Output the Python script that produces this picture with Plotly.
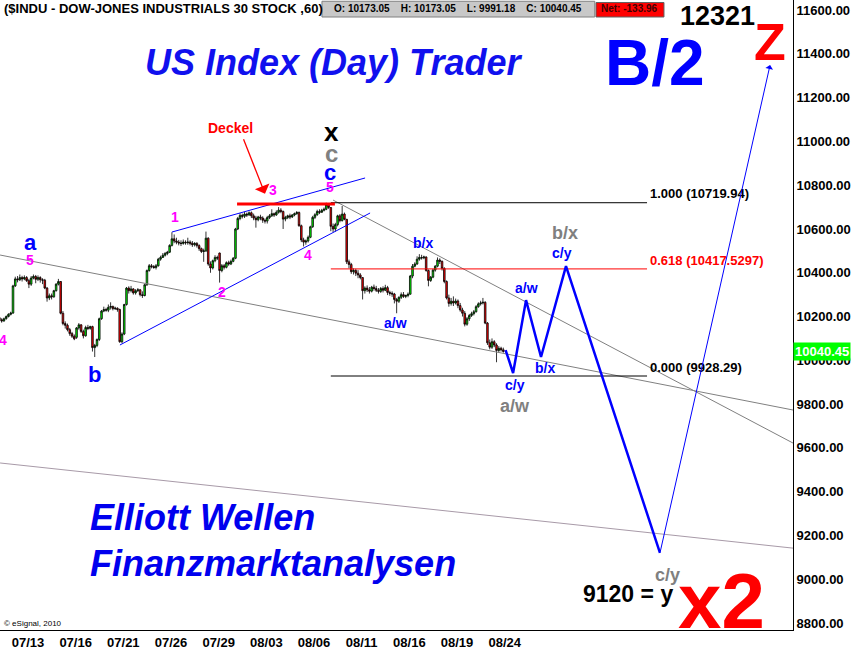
import plotly.graph_objects as go

# ---------------- data ----------------
days = ["07/12", "07/13", "07/14", "07/15", "07/16", "07/19", "07/20", "07/21",
        "07/22", "07/23", "07/26", "07/27", "07/28", "07/29", "07/30", "08/02",
        "08/03", "08/04", "08/05", "08/06", "08/09", "08/10", "08/11", "08/12",
        "08/13", "08/16", "08/17", "08/18", "08/19", "08/20", "08/23", "08/24"]
tick_days = ["07/13", "07/16", "07/21", "07/26", "07/29", "08/03", "08/06",
             "08/11", "08/16", "08/19", "08/24"]
bars_per_day = 7

open_ = [
    10200, 10195, 10185, 10180, 10190, 10200, 10210,
    10216, 10340, 10372, 10368, 10378, 10372, 10378,
    10364, 10348, 10376, 10383, 10370, 10378, 10368,
    10366, 10330, 10285, 10295, 10290, 10318, 10348,
    10360, 10215, 10168, 10160, 10140, 10122, 10110,
    10105, 10148, 10162, 10132, 10112, 10150, 10146,
    10154, 10058, 10068, 10095, 10190, 10225, 10232,
    10229, 10242, 10246, 10236, 10238, 10232, 10085,
    10120, 10255, 10330, 10318, 10326, 10308, 10318,
    10322, 10300, 10296, 10345, 10410, 10432, 10428,
    10424, 10432, 10462, 10470, 10480, 10488, 10494,
    10525, 10555, 10545, 10540, 10536, 10534, 10540,
    10537, 10540, 10535, 10528, 10534, 10524, 10510,
    10497, 10500, 10558, 10440, 10422, 10455, 10470,
    10490, 10410, 10432, 10425, 10446, 10440, 10452,
    10466, 10600, 10648, 10662, 10658, 10668, 10664,
    10674, 10660, 10650, 10642, 10655, 10650, 10640,
    10636, 10652, 10660, 10670, 10664, 10676, 10686,
    10680, 10645, 10652, 10660, 10655, 10664, 10670,
    10675, 10615, 10550, 10540, 10545, 10562, 10610,
    10653, 10665, 10680, 10676, 10685, 10690, 10712,
    10698, 10612, 10600, 10620, 10660, 10638, 10668,
    10644, 10450, 10438, 10405, 10410, 10398, 10390,
    10378, 10318, 10330, 10322, 10316, 10334, 10328,
    10320, 10315, 10328, 10320, 10332, 10310, 10306,
    10303, 10278, 10270, 10288, 10300, 10292, 10296,
    10302, 10385, 10430, 10440, 10462, 10470, 10468,
    10472, 10410, 10365, 10380, 10412, 10430, 10458,
    10452, 10420, 10360, 10285, 10260, 10270, 10262,
    10271, 10250, 10230, 10215, 10165, 10190, 10205,
    10213, 10222, 10245, 10258, 10262, 10265, 10170,
    10080, 10060, 10085, 10070, 10045, 10055, 10048,
]
high = [
    10215, 10200, 10192, 10195, 10205, 10215, 10222,
    10345, 10382, 10385, 10392, 10386, 10388, 10385,
    10372, 10385, 10392, 10390, 10388, 10384, 10375,
    10372, 10335, 10305, 10305, 10322, 10352, 10372,
    10362, 10225, 10178, 10168, 10148, 10130, 10118,
    10152, 10170, 10165, 10140, 10158, 10162, 10158,
    10158, 10075, 10100, 10195, 10230, 10245, 10240,
    10255, 10265, 10250, 10245, 10242, 10236, 10128,
    10258, 10335, 10338, 10340, 10330, 10325, 10330,
    10326, 10315, 10350, 10415, 10440, 10440, 10435,
    10440, 10468, 10478, 10490, 10495, 10500, 10530,
    10585, 10575, 10560, 10550, 10548, 10552, 10548,
    10560, 10548, 10545, 10540, 10540, 10530, 10515,
    10510, 10588, 10562, 10452, 10460, 10480, 10478,
    10492, 10440, 10440, 10452, 10455, 10460, 10472,
    10605, 10655, 10672, 10670, 10678, 10675, 10680,
    10680, 10670, 10660, 10660, 10665, 10658, 10648,
    10660, 10668, 10690, 10675, 10685, 10700, 10695,
    10684, 10660, 10665, 10670, 10668, 10675, 10682,
    10680, 10620, 10560, 10552, 10570, 10615, 10660,
    10672, 10688, 10690, 10692, 10698, 10719.94, 10716,
    10700, 10625, 10628, 10665, 10668, 10705, 10675,
    10646, 10460, 10445, 10420, 10418, 10412, 10398,
    10380, 10338, 10342, 10335, 10340, 10346, 10340,
    10330, 10335, 10338, 10345, 10340, 10318, 10315,
    10308, 10285, 10292, 10310, 10312, 10300, 10310,
    10390, 10440, 10448, 10475, 10485, 10482, 10478,
    10475, 10415, 10385, 10418, 10435, 10470, 10466,
    10456, 10425, 10365, 10300, 10285, 10292, 10282,
    10278, 10262, 10240, 10225, 10198, 10212, 10222,
    10230, 10252, 10265, 10272, 10285, 10270, 10175,
    10095, 10100, 10092, 10078, 10065, 10062, 10058,
]
low = [
    10185, 10165, 10172, 10176, 10186, 10196, 10205,
    10212, 10335, 10356, 10362, 10360, 10366, 10358,
    10330, 10340, 10370, 10352, 10362, 10355, 10348,
    10325, 10268, 10275, 10278, 10286, 10314, 10342,
    10210, 10160, 10145, 10132, 10112, 10102, 10092,
    10098, 10140, 10125, 10100, 10108, 10138, 10140,
    10040, 10015, 10060, 10088, 10185, 10220, 10222,
    10220, 10232, 10228, 10230, 10222, 10080, 10078,
    10115, 10250, 10305, 10310, 10300, 10300, 10312,
    10292, 10285, 10292, 10340, 10405, 10420, 10418,
    10415, 10428, 10455, 10468, 10474, 10480, 10490,
    10520, 10535, 10530, 10525, 10522, 10528, 10528,
    10528, 10525, 10518, 10520, 10515, 10500, 10490,
    10450, 10495, 10432, 10400, 10415, 10448, 10458,
    10355, 10402, 10415, 10420, 10432, 10435, 10448,
    10462, 10595, 10640, 10648, 10650, 10655, 10660,
    10650, 10640, 10606, 10635, 10640, 10628, 10625,
    10625, 10645, 10655, 10655, 10660, 10670, 10672,
    10600, 10635, 10645, 10645, 10650, 10658, 10665,
    10610, 10540, 10520, 10528, 10538, 10558, 10605,
    10645, 10660, 10668, 10675, 10680, 10686, 10692,
    10590, 10585, 10588, 10612, 10630, 10634, 10640,
    10440, 10420, 10395, 10392, 10385, 10375, 10370,
    10278, 10305, 10312, 10305, 10310, 10318, 10312,
    10305, 10308, 10310, 10316, 10298, 10295, 10290,
    10260, 10215, 10262, 10280, 10285, 10284, 10288,
    10300, 10375, 10425, 10436, 10455, 10460, 10462,
    10405, 10338, 10358, 10375, 10405, 10425, 10440,
    10410, 10352, 10278, 10245, 10250, 10248, 10255,
    10238, 10222, 10200, 10155, 10158, 10180, 10198,
    10205, 10218, 10240, 10250, 10255, 10165, 10070,
    10050, 10052, 10060, 9991.18, 10035, 10040, 10035,
]
close = [
    10195, 10185, 10180, 10190, 10200, 10210, 10216,
    10340, 10372, 10368, 10378, 10372, 10378, 10364,
    10348, 10376, 10383, 10370, 10378, 10368, 10366,
    10330, 10285, 10295, 10290, 10318, 10348, 10360,
    10215, 10168, 10160, 10140, 10122, 10110, 10098,
    10148, 10162, 10132, 10112, 10150, 10146, 10154,
    10058, 10068, 10095, 10190, 10225, 10232, 10229,
    10242, 10246, 10236, 10238, 10232, 10085, 10120,
    10255, 10330, 10318, 10326, 10308, 10318, 10322,
    10300, 10296, 10345, 10410, 10432, 10428, 10424,
    10432, 10462, 10470, 10480, 10488, 10494, 10525,
    10555, 10545, 10540, 10536, 10534, 10540, 10537,
    10540, 10535, 10528, 10534, 10524, 10510, 10497,
    10500, 10558, 10440, 10422, 10455, 10470, 10467,
    10410, 10432, 10425, 10446, 10440, 10452, 10466,
    10600, 10648, 10662, 10658, 10668, 10664, 10674,
    10660, 10650, 10642, 10655, 10650, 10640, 10636,
    10652, 10660, 10670, 10664, 10676, 10686, 10680,
    10645, 10652, 10660, 10655, 10664, 10670, 10675,
    10615, 10550, 10540, 10545, 10562, 10610, 10653,
    10665, 10680, 10676, 10685, 10690, 10712, 10698,
    10612, 10600, 10620, 10660, 10638, 10668, 10644,
    10450, 10438, 10405, 10410, 10398, 10390, 10378,
    10318, 10330, 10322, 10316, 10334, 10328, 10320,
    10315, 10328, 10320, 10332, 10310, 10306, 10303,
    10278, 10270, 10288, 10300, 10292, 10296, 10302,
    10385, 10430, 10440, 10462, 10470, 10468, 10472,
    10410, 10365, 10380, 10412, 10430, 10458, 10452,
    10420, 10360, 10285, 10260, 10270, 10262, 10271,
    10250, 10230, 10215, 10165, 10190, 10205, 10213,
    10222, 10245, 10258, 10262, 10265, 10170, 10080,
    10060, 10085, 10070, 10045, 10055, 10048, 10040.45,
]

# Fibonacci levels
fib_ratio = ["1.000", "0.618", "0.000"]
fib_price = [10719.94, 10417.5297, 9928.29]
fib_color = ["#000000", "#ff0000", "#000000"]

# trend lines (bar index, price)
line_a = ([1.3, 350.6], [10481, 9773])
line_b = ([148.0, 350.6], [10732, 9622])
line_c = ([1.3, 350.6], [9531, 9142])
chan_up = ([77.0, 162.1], [10586, 10833])
chan_lo = ([54.1, 164.3], [10070, 10673])
deckel = ([105.7, 148.8], [10714, 10714])

# projected Elliott path
proj_x = [224.0, 227.3, 233.0, 239.6, 250.6, 292.0]
proj_y = [10047, 9942, 10275, 10015, 10430, 9120]
target_x = [292.0, 340.5]
target_y = [9120, 11349]

last_price = 10040.45
yticks = list(range(8800, 11601, 200))

# ---------------- figure ----------------
FONT = "Arial, Liberation Sans, sans-serif"
x_idx = list(range(len(close)))

fig = go.Figure()

gray_lines = [(line_a, "#808080"), (line_b, "#808080"), (line_c, "#a89aa8")]
for (xs, ys), col in gray_lines:
    fig.add_trace(go.Scatter(x=xs, y=ys, mode="lines",
                             line=dict(color=col, width=1), hoverinfo="skip"))
for xs, ys in (chan_up, chan_lo):
    fig.add_trace(go.Scatter(x=xs, y=ys, mode="lines",
                             line=dict(color="#0000ff", width=1), hoverinfo="skip"))

fib_x0, fib_x1 = 147.0, 286.3
for r, p, c in zip(fib_ratio, fib_price, fib_color):
    fig.add_trace(go.Scatter(x=[fib_x0, fib_x1], y=[p, p], mode="lines",
                             line=dict(color=c, width=1), hoverinfo="skip"))

fig.add_trace(go.Scatter(x=deckel[0], y=deckel[1], mode="lines",
                         line=dict(color="#ff0000", width=3), hoverinfo="skip"))

fig.add_trace(go.Candlestick(
    x=x_idx, open=open_, high=high, low=low, close=close,
    increasing=dict(fillcolor="#00ff00", line=dict(color="#000000", width=0.8)),
    decreasing=dict(fillcolor="#ff0000", line=dict(color="#000000", width=0.8)),
    whiskerwidth=0, hoverinfo="skip"))

fig.add_trace(go.Scatter(x=proj_x, y=proj_y, mode="lines",
                         line=dict(color="#0000ff", width=2.5), hoverinfo="skip"))

ann = []


def T(x, y, s, size, color, xref="x", yref="y", xa="center", ya="middle",
      bold=True, italic=False):
    t = s
    if italic:
        t = "<i>" + t + "</i>"
    if bold:
        t = "<b>" + t + "</b>"
    ann.append(dict(x=x, y=y, xref=xref, yref=yref, text=t, showarrow=False,
                    xanchor=xa, yanchor=ya,
                    font=dict(family=FONT, size=size, color=color)))


# fib labels
for r, p, c in zip(fib_ratio, fib_price, fib_color):
    T(fib_x1 + 0.5, p + 40, f"{r} ({p})" if r != "1.000" else f"{r} ({p:.2f})",
      13, c, xa="left")

# wave labels
MAG, BLU, GRY = "#ff00ff", "#0000ff", "#808080"
T(14.5, 10536, "a", 22, BLU)
T(14.5, 10458, "5", 14, MAG)
T(2.6, 10093, "4", 14, MAG)
T(43.1, 9933, "b", 22, BLU)
T(78.4, 10654, "1", 14, MAG)
T(99.1, 10312, "2", 14, MAG)
T(121.5, 10778, "3", 14, MAG)
T(147.5, 11043, "x", 26, "#000000")
T(147.5, 10947, "c", 24, GRY)
T(146.6, 10860, "c", 22, BLU)
T(146.6, 10792, "5", 14, MAG)
T(137.0, 10481, "4", 14, MAG)
T(187.6, 10536, "b/x", 14, BLU)
T(175.7, 10170, "a/w", 14, BLU)
T(233.4, 10330, "a/w", 14, BLU)
T(241.4, 9965, "b/x", 14, BLU)
T(228.1, 9887, "c/y", 14, BLU)
T(228.1, 9791, "a/w", 18, GRY)
T(250.2, 10581, "b/x", 18, GRY)
T(248.8, 10490, "c/y", 14, BLU)
T(102.6, 11061, "Deckel", 14, "#ff0000")

# Deckel arrow
ann.append(dict(x=118.0, y=10761, ax=108.3, ay=11017, axref="x", ayref="y",
                xref="x", yref="y", showarrow=True, arrowhead=1, arrowsize=2,
                arrowwidth=1.3, arrowcolor="#ff0000", text=""))
# target arrow
ann.append(dict(x=target_x[1], y=target_y[1], ax=target_x[0], ay=target_y[0],
                axref="x", ayref="y", xref="x", yref="y", showarrow=True,
                arrowhead=1, arrowsize=1.3, arrowwidth=1, arrowcolor="#0000ff",
                text="", standoff=0, startstandoff=0))

# big titles (paper coords)
T(0.42, 0.90, "US Index (Day) Trader", 36, "#1010ee", "paper", "paper", italic=True)
T(0.826, 0.90, "B/2", 64, "#0000ff", "paper", "paper")
T(0.905, 0.975, "12321", 27, "#000000", "paper", "paper")
T(0.971, 0.933, "Z", 52, "#ff0000", "paper", "paper")
T(0.111, 0.178, "Elliott Wellen", 36, "#0000ee", "paper", "paper", xa="left", italic=True)
T(0.111, 0.106, "Finanzmarktanalysen", 36, "#0000ee", "paper", "paper", xa="left", italic=True)
T(0.792, 0.057, "9120 = y", 23, "#000000", "paper", "paper")
T(0.910, 0.046, "x2", 78, "#ff0000", "paper", "paper")
T(0.842, 0.087, "c/y", 18, GRY, "paper", "paper")
T(0.002, 0.010, "© eSignal, 2010", 8, "#000000", "paper", "paper", xa="left", bold=False)

# header
T(0.0025, 0.987, "($INDU - DOW-JONES INDUSTRIALS 30 STOCK ,60)", 13, "#000000",
  "paper", "paper", xa="left")
nb = "\u00a0"
hdr = ("O: 10173.05" + nb * 4 + "H: 10173.05" + nb * 4 + "L: 9991.18" + nb * 4 +
       "C: 10040.45")
T(0.578, 0.986, hdr, 10, "#000000", "paper", "paper")
T(0.794, 0.986, "Net: -133.96", 10, "#400000", "paper", "paper")

# last price tag
ann.append(dict(x=1.0, y=last_price, xref="paper", yref="y", xanchor="left",
                yanchor="middle", showarrow=False, text=f"<b>{last_price:.2f}</b>",
                bgcolor="#00ff00", borderpad=1,
                font=dict(family=FONT, size=13, color="#ffffff")))

shapes = [
    dict(type="rect", xref="paper", yref="paper", x0=0.406, x1=0.750,
         y0=0.973, y1=0.998, fillcolor="#c8c8c8", line=dict(color="#808080", width=1)),
    dict(type="rect", xref="paper", yref="paper", x0=0.7516, x1=0.8373,
         y0=0.973, y1=0.996, fillcolor="#ff0000", line=dict(color="#606060", width=1)),
]

tickvals = [days.index(d) * bars_per_day + 6.6 for d in tick_days]

fig.update_layout(
    width=851, height=650, autosize=False,
    margin=dict(l=0, r=58, t=0, b=20, pad=0),
    paper_bgcolor="#ffffff", plot_bgcolor="#ffffff",
    showlegend=False, annotations=ann, shapes=shapes, boxgap=0.0,
    font=dict(family=FONT, color="#000000"),
    xaxis=dict(range=[1.27, 350.6], showgrid=False, zeroline=False,
               showline=True, linecolor="#000000", linewidth=1,
               tickmode="array", tickvals=tickvals, ticktext=tick_days,
               tickfont=dict(family=FONT, size=13, color="#000000", weight="bold"),
               ticks="", rangeslider=dict(visible=False)),
    yaxis=dict(range=[8768, 11646], side="right", showgrid=False, zeroline=False,
               showline=True, linecolor="#000000", linewidth=1,
               tickmode="array", tickvals=yticks, tickformat=".2f",
               tickfont=dict(family=FONT, size=13, color="#000000", weight="bold"),
               ticks=""),
)

fig.write_html("out.html", config={"displayModeBar": False},
               post_script="document.body.style.margin='0px';"
                           "document.body.style.overflow='hidden';")
